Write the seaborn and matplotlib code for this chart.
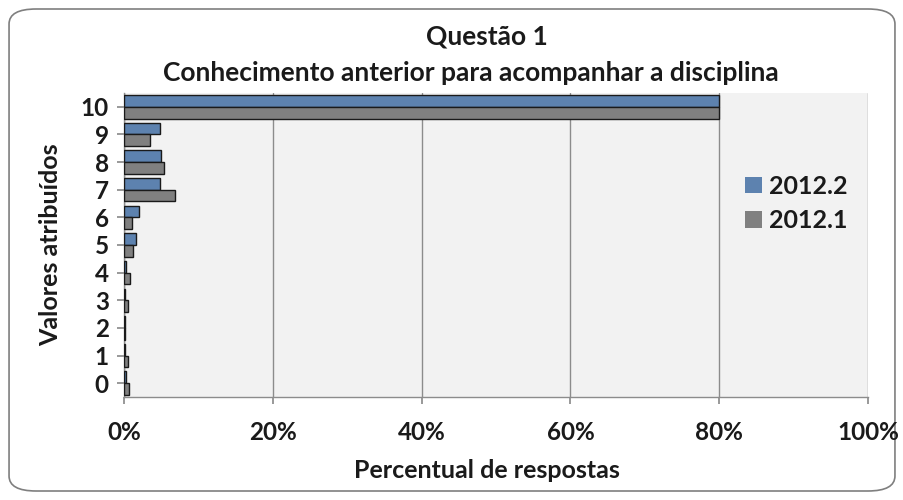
import matplotlib
matplotlib.use("Agg")
import matplotlib.pyplot as plt
from matplotlib.patches import FancyBboxPatch
from matplotlib.ticker import PercentFormatter
import seaborn as sns
import pandas as pd

categories = ["10", "9", "8", "7", "6", "5", "4", "3", "2", "1", "0"]
series_names = ["2012.2", "2012.1"]
values_2012_2 = [80.0, 4.8, 5.0, 4.8, 2.0, 1.6, 0.3, 0.1, 0.1, 0.2, 0.3]
values_2012_1 = [80.0, 3.5, 5.4, 6.9, 1.1, 1.2, 0.8, 0.5, 0.2, 0.5, 0.7]
x_ticks = [0, 20, 40, 60, 80, 100]

df = pd.DataFrame({
    "cat": categories * 2,
    "serie": [series_names[0]] * len(categories) + [series_names[1]] * len(categories),
    "val": values_2012_2 + values_2012_1,
})

sns.set_theme(style="white")
plt.rcParams["font.family"] = ["Lato", "DejaVu Sans"]

W = "bold"
fig = plt.figure(figsize=(9.04, 5.0), dpi=100)
fig.patch.set_facecolor("white")
border = FancyBboxPatch((0.010, 0.018), 0.980, 0.964, boxstyle="round,pad=0,rounding_size=0.03",
                        transform=fig.transFigure, facecolor="white", edgecolor="#7f7f7f",
                        linewidth=1.2, zorder=-10)
fig.patches.append(border)

ax = fig.add_axes([124 / 904, 1 - 397 / 500, (868 - 124) / 904, (397 - 93) / 500])
ax.set_facecolor("#f2f2f2")

sns.barplot(data=df, x="val", y="cat", hue="serie", order=categories, hue_order=series_names,
            palette={"2012.2": "#4f81bd", "2012.1": "#808080"}, orient="h", width=0.85,
            edgecolor="#1a1a1a", linewidth=1.0, ax=ax, zorder=3)

ax.set_xlim(0, 100)
ax.set_xticks(x_ticks)
ax.xaxis.set_major_formatter(PercentFormatter(decimals=0))
ax.grid(axis="x", color="#8c8c8c", linewidth=1.0, zorder=0)
ax.set_axisbelow(True)
for s in ["top", "right"]:
    ax.spines[s].set_visible(False)
for s in ["left", "bottom"]:
    ax.spines[s].set_color("#8c8c8c")
    ax.spines[s].set_linewidth(1.0)

ax.tick_params(axis="y", left=True, length=5, color="#8c8c8c", labelsize=17.5, pad=6)
ax.tick_params(axis="x", bottom=True, length=5, color="#8c8c8c", labelsize=17.5, pad=12)
for lab in ax.get_xticklabels() + ax.get_yticklabels():
    lab.set_fontweight(W)
    lab.set_color("#1a1a1a")

ax.set_xlabel("Percentual de respostas", fontsize=18, fontweight=W, color="#1a1a1a")
ax.xaxis.set_label_coords((487 - 124) / 744, -(470 - 397) / 304)
ax.xaxis.label.set_va("center")
ax.set_ylabel("Valores atribuídos", fontsize=18, fontweight=W, color="#1a1a1a")
ax.yaxis.set_label_coords(-(124 - 51) / 744, 0.5)
ax.yaxis.label.set_va("center")

fig.text(487 / 904, 1 - 37 / 500, "Questão 1", ha="center", va="center", fontsize=19, fontweight=W, color="#1a1a1a")
fig.text(471 / 904, 1 - 73 / 500, "Conhecimento anterior para acompanhar a disciplina", ha="center", va="center",
         fontsize=19, fontweight=W, color="#1a1a1a")

leg = ax.legend(loc="center left", bbox_to_anchor=(0.805, 0.637), frameon=False, fontsize=18,
                handlelength=0.65, handleheight=0.65, handletextpad=0.3, labelspacing=0.45)
for t in leg.get_texts():
    t.set_fontweight(W)
    t.set_color("#1a1a1a")
for h in leg.legend_handles:
    h.set_edgecolor("none")

fig.savefig("out.png", dpi=100)
